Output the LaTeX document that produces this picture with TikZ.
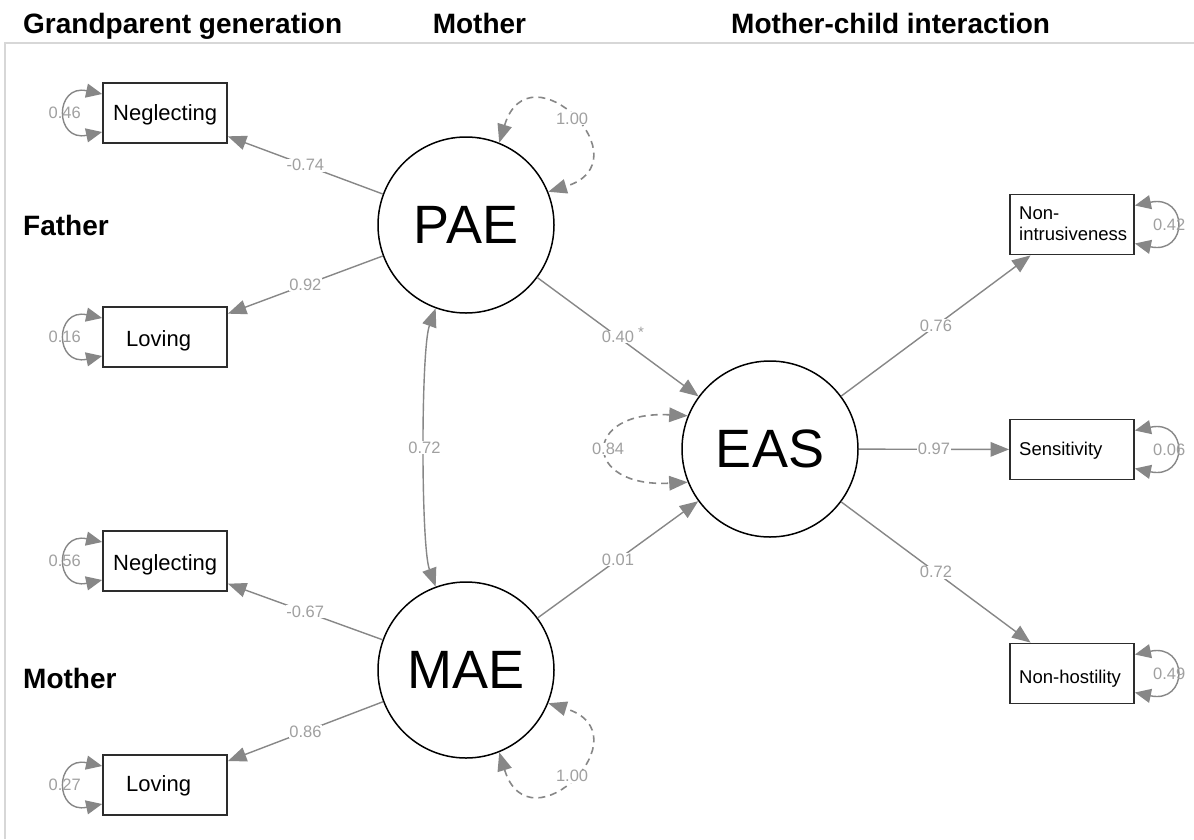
\documentclass[tikz,border=0pt]{standalone}
\usepackage{fontspec}
\setmainfont{Liberation Sans}
\usetikzlibrary{arrows.meta}
\definecolor{edgec}{RGB}{135,135,135}
\definecolor{lblc}{RGB}{160,160,160}
\definecolor{boxc}{RGB}{45,45,45}
\definecolor{framec}{RGB}{215,215,215}
\begin{document}
\begin{tikzpicture}[x=1pt,y=1pt,
  latent/.style={circle, draw=black, line width=1.5pt, minimum size=176pt, inner sep=0pt, font=\fontsize{54}{54}\selectfont},
  obsbox/.style={draw=boxc, line width=1.8pt, minimum width=124pt, minimum height=60pt, inner sep=0pt},
  boxtxt/.style={anchor=base west, inner sep=0pt, font=\fontsize{22}{22}\selectfont},
  boxtxtsm/.style={anchor=base west, inner sep=0pt, font=\fontsize{18.5}{18.5}\selectfont},
  heading/.style={anchor=base west, inner sep=0pt, font=\bfseries\fontsize{28}{28}\selectfont},
  tipA/.tip={Triangle[length=18.5pt,width=14.5pt]},
  tipB/.tip={Triangle[length=16pt,width=14pt]},
  load/.style={draw=edgec, line width=1.4pt, -tipA},
  cov/.style={draw=edgec, line width=1.4pt, tipA-tipA},
  varloop/.style={draw=edgec, line width=1.6pt, dash pattern=on 7pt off 5pt, tipA-tipA},
  resid/.style={draw=edgec, line width=1.4pt, tipB-tipB},
  lbl/.style={font=\fontsize{16.5}{16.5}\selectfont, text=lblc, fill=white, inner sep=0.6pt},
  lblnf/.style={font=\fontsize{16.5}{16.5}\selectfont, text=lblc, inner sep=0pt}
]
\useasboundingbox (0,0) rectangle (1194,-839);
\fill[white] (0,0) rectangle (1194,-839);
\draw[framec, line width=1.2pt] (5,-839) -- (5,-43) -- (1194,-43);

% headings
\node[heading] (hG) at (23,-33) {Grandparent generation};
\node[heading] (hM) at (432.6,-33) {Mother};
\node[heading] (hMC) at (731,-33) {Mother-child interaction};
\node[heading] (hF) at (23,-235) {Father};
\node[heading] (hMo) at (23,-688) {Mother};

% latent variables
\node[latent] (PAE) at (466,-225) {PAE};
\node[latent] (MAE) at (466,-670) {MAE};
\node[latent] (EAS) at (770,-449) {EAS};

% observed boxes
\node[obsbox] (N1) at (165,-113) {};
\node[obsbox] (L1) at (165,-337) {};
\node[obsbox] (N2) at (165,-561) {};
\node[obsbox] (L2) at (165,-785) {};
\node[obsbox] (NI) at (1072,-224.5) {};
\node[obsbox] (SE) at (1072,-449.5) {};
\node[obsbox] (NH) at (1072,-673.5) {};

\node[boxtxt] (tN1) at (113,-120) {Neglecting};
\node[boxtxt] (tL1) at (126,-346.5) {Loving};
\node[boxtxt] (tN2) at (113,-570) {Neglecting};
\node[boxtxt] (tL2) at (126,-791.5) {Loving};
\node[boxtxtsm] (tNI1) at (1019,-219) {Non-};
\node[boxtxtsm] (tNI2) at (1019,-240) {intrusiveness};
\node[boxtxtsm] (tSE) at (1019,-455) {Sensitivity};
\node[boxtxtsm] (tNH) at (1019,-683) {Non-hostility};

% loadings
\draw[load] (PAE) -- node[lbl]{-0.74} (N1);
\draw[load] (PAE) -- node[lbl]{0.92} (L1);
\draw[load] (MAE) -- node[lbl]{-0.67} (N2);
\draw[load] (MAE) -- node[lbl]{0.86} (L2);
\draw[load] (PAE) -- node[lbl] (l40) {0.40} (EAS);
\node[lblnf, font=\fontsize{15}{15}\selectfont] (star) at (641,-332) {*};
\draw[load] (MAE) -- node[lbl]{0.01} (EAS);
\draw[load] (EAS) -- node[lbl]{0.76} (NI);
\draw[load] (EAS) -- node[lbl]{0.97} (SE);
\draw[load] (EAS) -- node[lbl]{0.72} (NH);

% covariance
\draw[cov] (PAE) to[out=250,in=110,looseness=0.4] node[lbl]{0.72} (MAE);

% latent variances
\draw[varloop] (PAE.68) to[out=73,in=17,looseness=3.8] node[lbl]{1.00} (PAE.22);
\draw[varloop] (MAE.-68) to[out=-73,in=-17,looseness=3.8] node[lbl]{1.00} (MAE.-22);
\draw[varloop] (EAS.158) to[out=177,in=183,looseness=4.1] node[lbl]{0.84} (EAS.202);

% residual variances
\draw[resid] ([yshift=19pt]N1.west) to[out=168,in=192,looseness=3.3] node[lblnf, xshift=-1.5pt]{0.46} ([yshift=-19pt]N1.west);
\draw[resid] ([yshift=19pt]L1.west) to[out=168,in=192,looseness=3.3] node[lblnf, xshift=-1.5pt]{0.16} ([yshift=-19pt]L1.west);
\draw[resid] ([yshift=19pt]N2.west) to[out=168,in=192,looseness=3.3] node[lblnf, xshift=-1.5pt]{0.56} ([yshift=-19pt]N2.west);
\draw[resid] ([yshift=19pt]L2.west) to[out=168,in=192,looseness=3.3] node[lblnf, xshift=-1.5pt]{0.27} ([yshift=-19pt]L2.west);
\draw[resid] ([yshift=19pt]NI.east) to[out=12,in=-12,looseness=3.7] node[lblnf, xshift=-6pt]{0.42} ([yshift=-19pt]NI.east);
\draw[resid] ([yshift=19pt]SE.east) to[out=12,in=-12,looseness=3.7] node[lblnf, xshift=-6pt]{0.06} ([yshift=-19pt]SE.east);
\draw[resid] ([yshift=19pt]NH.east) to[out=12,in=-12,looseness=3.7] node[lblnf, xshift=-6pt]{0.49} ([yshift=-19pt]NH.east);
\end{tikzpicture}
\end{document}
